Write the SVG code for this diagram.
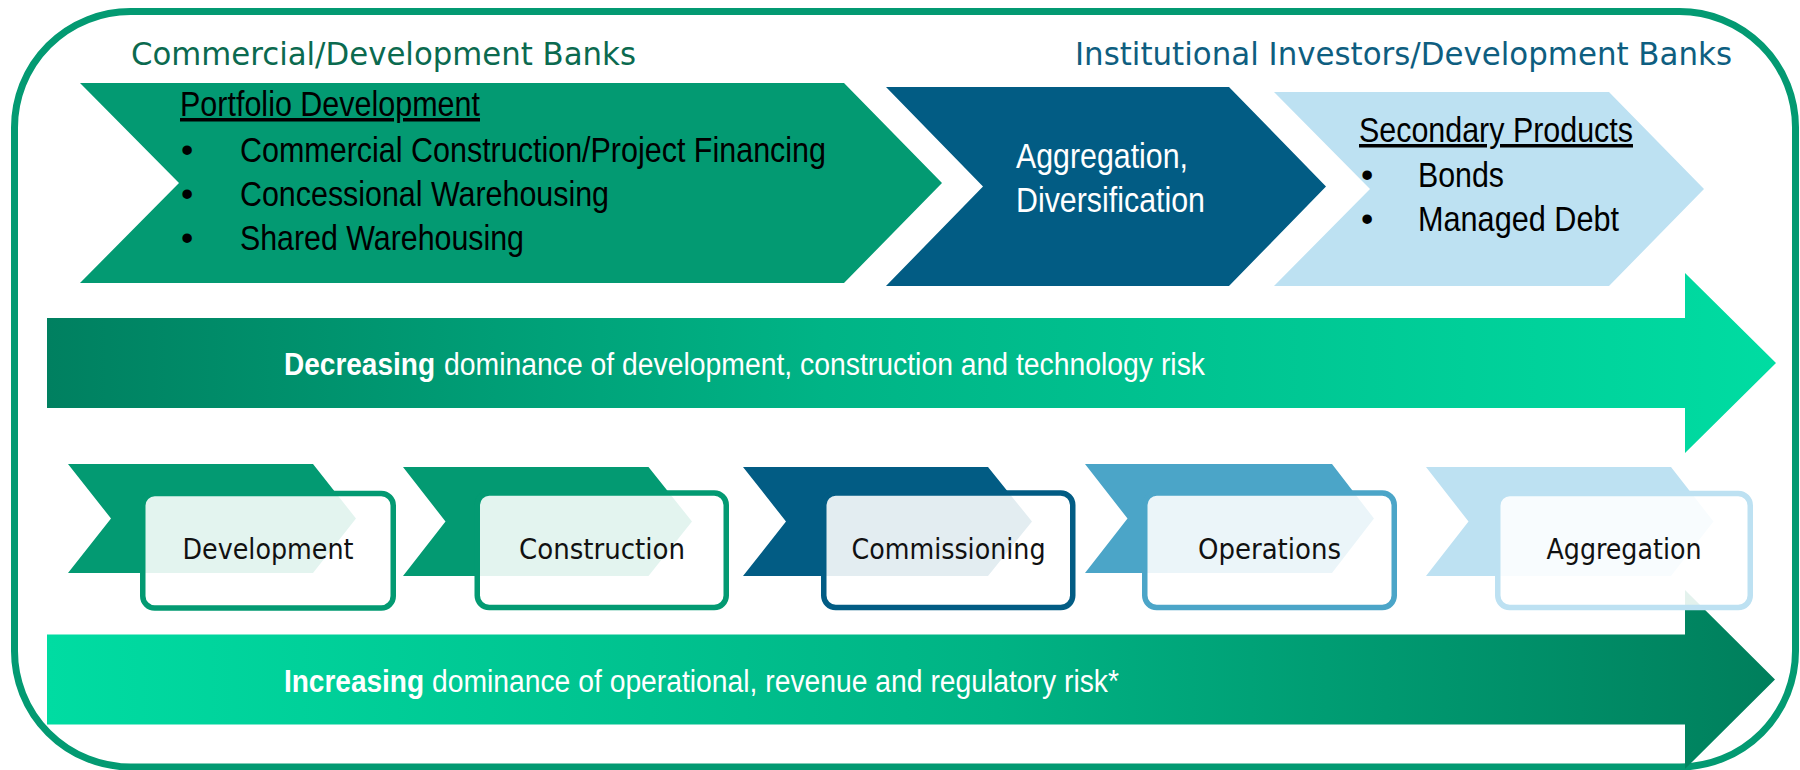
<svg xmlns="http://www.w3.org/2000/svg" width="1800" height="770" viewBox="0 0 1800 770">
  <defs>
    <linearGradient id="gradDecreasing" gradientUnits="userSpaceOnUse" x1="47" y1="0" x2="1776" y2="0">
      <stop offset="0" stop-color="#008060"/>
      <stop offset="0.45" stop-color="#00B486"/>
      <stop offset="1" stop-color="#00DCA2"/>
    </linearGradient>
    <linearGradient id="gradIncreasing" gradientUnits="userSpaceOnUse" x1="47" y1="0" x2="1775" y2="0">
      <stop offset="0" stop-color="#00DCA2"/>
      <stop offset="0.55" stop-color="#00B384"/>
      <stop offset="1" stop-color="#007F5C"/>
    </linearGradient>
    <style>
      .frame { fill: none; stroke: #039A72; stroke-width: 7; }
      .header { font-family: "DejaVu Sans Condensed", "DejaVu Sans", sans-serif; font-size: 32px; }
      .hdr-green { fill: #0B6A4F; }
      .hdr-blue { fill: #0E5E80; }
      .body { font-family: "Liberation Sans", Arial, sans-serif; font-size: 35px; fill: #000; }
      .white { fill: #fff; }
      .ul { text-decoration: underline; }
      .risk { font-family: "Liberation Sans", Arial, sans-serif; font-size: 31px; fill: #fff; }
      .bold { font-weight: bold; }
      .green { fill: #039A72; }
      .navy { fill: #025C84; }
      .sky { fill: #4BA5C8; }
      .pale { fill: #BDE1F2; }
      .box { fill: #fff; fill-opacity: 0.89; stroke-width: 5.5; }
      .box-green { stroke: #039A72; }
      .box-navy { stroke: #025C84; }
      .box-sky { stroke: #4BA5C8; }
      .box-pale { stroke: #BDE1F2; }
      .label { font-family: "DejaVu Sans Condensed", "DejaVu Sans", sans-serif; font-size: 28px; fill: #111; text-anchor: middle; }
    </style>
  </defs>

  <!-- outer rounded frame -->
  <rect class="frame" x="14.5" y="11.5" width="1781" height="755.5" rx="116" ry="116"/>

  <!-- investor headers -->
  <g id="headers">
    <text class="header hdr-green" x="131" y="65" textLength="505" lengthAdjust="spacingAndGlyphs">Commercial/Development Banks</text>
    <text class="header hdr-blue" x="1075" y="65" textLength="657" lengthAdjust="spacingAndGlyphs">Institutional Investors/Development Banks</text>
  </g>

  <!-- top financing chevrons -->
  <g id="portfolio-development">
    <polygon class="green" points="80,83 844,83 942,183 844,283 80,283 179,183"/>
    <text class="body ul" x="180" y="116" font-size="34" textLength="300" lengthAdjust="spacingAndGlyphs">Portfolio Development</text>
    <text class="body" x="181" y="162">•</text>
    <text class="body" x="240" y="162" font-size="36" textLength="586" lengthAdjust="spacingAndGlyphs">Commercial Construction/Project Financing</text>
    <text class="body" x="181" y="206">•</text>
    <text class="body" x="240" y="206" font-size="36" textLength="369" lengthAdjust="spacingAndGlyphs">Concessional Warehousing</text>
    <text class="body" x="181" y="250">•</text>
    <text class="body" x="240" y="250" font-size="36" textLength="284" lengthAdjust="spacingAndGlyphs">Shared Warehousing</text>
  </g>

  <g id="aggregation-diversification">
    <polygon class="navy" points="886,87 1229,87 1326,186.5 1229,286 886,286 983,186.5"/>
    <text class="body white" x="1016" y="168" font-size="36" textLength="172" lengthAdjust="spacingAndGlyphs">Aggregation,</text>
    <text class="body white" x="1016" y="211.5" font-size="36" textLength="189" lengthAdjust="spacingAndGlyphs">Diversification</text>
  </g>

  <g id="secondary-products">
    <polygon class="pale" points="1274,92 1609,92 1704,189 1609,286 1274,286 1370,189"/>
    <text class="body ul" x="1359" y="142" textLength="274" lengthAdjust="spacingAndGlyphs">Secondary Products</text>
    <text class="body" x="1361" y="187">•</text>
    <text class="body" x="1418" y="187" textLength="86" lengthAdjust="spacingAndGlyphs">Bonds</text>
    <text class="body" x="1361" y="231">•</text>
    <text class="body" x="1418" y="231" textLength="201" lengthAdjust="spacingAndGlyphs">Managed Debt</text>
  </g>

  <!-- risk trend arrows -->
  <g id="risk-arrows">
    <g id="decreasing-risk">
      <polygon fill="url(#gradDecreasing)" points="47,318 1685,318 1685,273 1776,363 1685,453 1685,408 47,408"/>
      <text class="risk" y="375"><tspan class="bold" x="284" textLength="151" lengthAdjust="spacingAndGlyphs">Decreasing</tspan><tspan x="444" textLength="761" lengthAdjust="spacingAndGlyphs">dominance of development, construction and technology risk</tspan></text>
    </g>
    <g id="increasing-risk">
      <polygon fill="url(#gradIncreasing)" points="47,634.5 1685,634.5 1685,590 1775,679.5 1685,769 1685,724.5 47,724.5"/>
      <text class="risk" y="692"><tspan class="bold" x="284" textLength="140" lengthAdjust="spacingAndGlyphs">Increasing</tspan><tspan x="432" textLength="687" lengthAdjust="spacingAndGlyphs">dominance of operational, revenue and regulatory risk*</tspan></text>
    </g>
  </g>

  <!-- project lifecycle stages -->
  <g id="stage-development">
    <polygon class="green" points="68,464 313,464 356,518.5 313,573 68,573 111,518.5"/>
    <rect class="box box-green" x="142.75" y="493.5" width="250.5" height="114.5" rx="12"/>
    <text class="label" x="268" y="559" textLength="171" lengthAdjust="spacingAndGlyphs">Development</text>
  </g>

  <g id="stage-construction">
    <polygon class="green" points="403,467 648.5,467 692,521.5 648.5,576 403,576 445.5,521.5"/>
    <rect class="box box-green" x="477.25" y="493" width="249" height="114.5" rx="12"/>
    <text class="label" x="602" y="559" textLength="166" lengthAdjust="spacingAndGlyphs">Construction</text>
  </g>

  <g id="stage-commissioning">
    <polygon class="navy" points="743,467 988,467 1032,521.5 988,576 743,576 786,521.5"/>
    <rect class="box box-navy" x="823.75" y="493" width="249" height="114.5" rx="12"/>
    <text class="label" x="948.5" y="559" textLength="194" lengthAdjust="spacingAndGlyphs">Commissioning</text>
  </g>

  <g id="stage-operations">
    <polygon class="sky" points="1085,464 1332,464 1374,518.5 1332,573 1085,573 1127.5,518.5"/>
    <rect class="box box-sky" x="1144.75" y="493" width="249.5" height="114.5" rx="12"/>
    <text class="label" x="1269.5" y="559" textLength="143" lengthAdjust="spacingAndGlyphs">Operations</text>
  </g>

  <g id="stage-aggregation">
    <polygon class="pale" points="1426,467 1671,467 1713.5,521.5 1671,576 1426,576 1468.5,521.5"/>
    <rect class="box box-pale" x="1497.75" y="493.5" width="252.5" height="114" rx="12"/>
    <text class="label" x="1624" y="559" textLength="155" lengthAdjust="spacingAndGlyphs">Aggregation</text>
  </g>
</svg>
